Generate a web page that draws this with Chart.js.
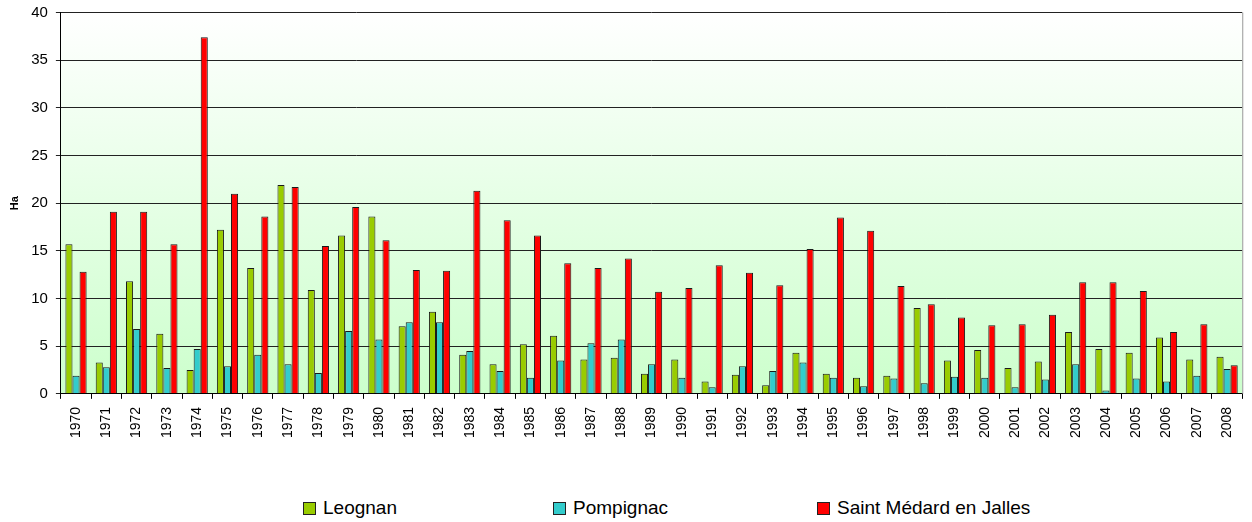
<!DOCTYPE html>
<html>
<head>
<meta charset="utf-8">
<script src="https://cdn.jsdelivr.net/npm/chart.js@4/dist/chart.umd.min.js"></script>
<style>
    body { margin: 0; background: #fff; font-family: "Liberation Sans", Arial, sans-serif; }
    #wrap { position: relative; width: 1252px; height: 522px; }
    #box { position: absolute; left: 0; top: 0; width: 1252px; height: 446px; }
    #legend { position: absolute; left: 0; top: 497px; width: 1252px; height: 22px; }
    .item { position: absolute; top: 0; display: flex; align-items: center; font-size: 19px; color: #000; white-space: nowrap; }
    .mark { width: 11px; height: 11px; border: 1px solid #222; margin-right: 7px; }
</style>
</head>
<body>
<div id="wrap">
    <div id="box"><canvas id="surface-chart"></canvas></div>
    <div id="legend"></div>
</div>
<script>
// Surfaces par année (Ha)
const years = ["1970", "1971", "1972", "1973", "1974", "1975", "1976", "1977", "1978", "1979",
    "1980", "1981", "1982", "1983", "1984", "1985", "1986", "1987", "1988", "1989",
    "1990", "1991", "1992", "1993", "1994", "1995", "1996", "1997", "1998", "1999",
    "2000", "2001", "2002", "2003", "2004", "2005", "2006", "2007", "2008"];

const leognan = [15.7, 3.3, 11.8, 6.3, 2.5, 17.2, 13.2, 21.9, 10.9, 16.6,
    18.6, 7.1, 8.6, 4.1, 3.1, 5.2, 6.1, 3.6, 3.8, 2.1,
    3.6, 1.3, 2.0, 0.9, 4.3, 2.1, 1.7, 1.9, 9.0, 3.5,
    4.6, 2.7, 3.4, 6.5, 4.7, 4.3, 5.9, 3.6, 3.9];

const pompignac = [1.9, 2.8, 6.8, 2.7, 4.7, 2.9, 4.1, 3.1, 2.2, 6.6,
    5.7, 7.5, 7.5, 4.5, 2.4, 1.7, 3.5, 5.3, 5.7, 3.1,
    1.7, 0.7, 2.9, 2.4, 3.3, 1.7, 0.8, 1.6, 1.1, 1.8,
    1.7, 0.7, 1.5, 3.1, 0.35, 1.6, 1.3, 1.9, 2.6];

const saintMedard = [12.8, 19.1, 19.1, 15.7, 37.4, 21.0, 18.6, 21.7, 15.5, 19.6,
    16.1, 13.0, 12.9, 21.3, 18.2, 16.6, 13.7, 13.2, 14.2, 10.7,
    11.1, 13.5, 12.7, 11.4, 15.2, 18.5, 17.1, 11.3, 9.4, 8.0,
    7.2, 7.3, 8.3, 11.7, 11.7, 10.8, 6.5, 7.3, 3.0];

const seriesNames = ["Leognan", "Pompignac", "Saint Médard en Jalles"];
const seriesColors = ["#99CC00", "#33CCCC", "#FF0000"];

// fond dégradé de la zone de tracé + bord droit
const plotBackground = {
    id: 'plotBackground',
    beforeDraw(chart) {
        const { ctx, chartArea: a } = chart;
        const grad = ctx.createLinearGradient(0, a.top, 0, a.bottom);
        grad.addColorStop(0, '#FFFFFF');
        grad.addColorStop(1, '#CCFFCC');
        ctx.save();
        ctx.fillStyle = grad;
        ctx.fillRect(a.left, a.top, a.right - a.left, a.bottom - a.top);
        ctx.restore();
    },
    afterDraw(chart) {
        const { ctx, chartArea: a } = chart;
        ctx.save();
        ctx.strokeStyle = '#999999';
        ctx.lineWidth = 1;
        ctx.beginPath();
        ctx.moveTo(a.right + 0.5, a.top);
        ctx.lineTo(a.right + 0.5, a.bottom);
        ctx.stroke();
        ctx.restore();
    }
};

function main() {
    surfaceChart();
    buildLegend();
}

function surfaceChart() {
    const values = [leognan, pompignac, saintMedard];
    const ctx = document.getElementById('surface-chart');
    new Chart(ctx, {
        type: 'bar',
        data: {
            labels: years,
            datasets: values.map((v, i) => ({
                label: seriesNames[i],
                data: v,
                backgroundColor: seriesColors[i],
                borderColor: '#1a1a1a',
                borderWidth: 1,
                borderSkipped: 'bottom',
                categoryPercentage: 0.7,
                barPercentage: 1.0,
            })),
        },
        plugins: [plotBackground],
        options: {
            responsive: true,
            maintainAspectRatio: false,
            animation: false,
            layout: {
                padding: { left: 0, right: 7, top: 0, bottom: 0 },
            },
            plugins: {
                legend: { display: false },
                tooltip: { enabled: false },
            },
            scales: {
                x: {
                    offset: true,
                    grid: {
                        offset: true,
                        drawOnChartArea: false,
                        drawTicks: true,
                        tickLength: 5,
                        color: '#000',
                    },
                    border: { color: '#000' },
                    ticks: {
                        minRotation: 90,
                        maxRotation: 90,
                        autoSkip: false,
                        padding: 8,
                        color: '#000',
                        font: { family: 'Liberation Sans', size: 14 },
                    },
                },
                y: {
                    min: 0,
                    max: 40,
                    grid: {
                        color: '#222',
                        tickLength: 5,
                    },
                    border: { color: '#000' },
                    ticks: {
                        stepSize: 5,
                        padding: 8,
                        color: '#000',
                        font: { family: 'Liberation Sans', size: 15, lineHeight: 0.6 },
                    },
                    title: {
                        display: true,
                        text: 'Ha',
                        color: '#000',
                        padding: { top: 8, bottom: 2 },
                        font: { family: 'Liberation Sans', size: 11, weight: 'bold' },
                    },
                },
            },
        },
    });
}

function buildLegend() {
    const lefts = [303, 553, 817];
    const legend = document.getElementById('legend');
    seriesNames.forEach((name, i) => {
        const item = document.createElement('div');
        item.className = 'item';
        item.style.left = lefts[i] + 'px';
        const mark = document.createElement('span');
        mark.className = 'mark';
        mark.style.background = seriesColors[i];
        const text = document.createElement('span');
        text.textContent = name;
        item.appendChild(mark);
        item.appendChild(text);
        legend.appendChild(item);
    });
}

main();
</script>
</body>
</html>
